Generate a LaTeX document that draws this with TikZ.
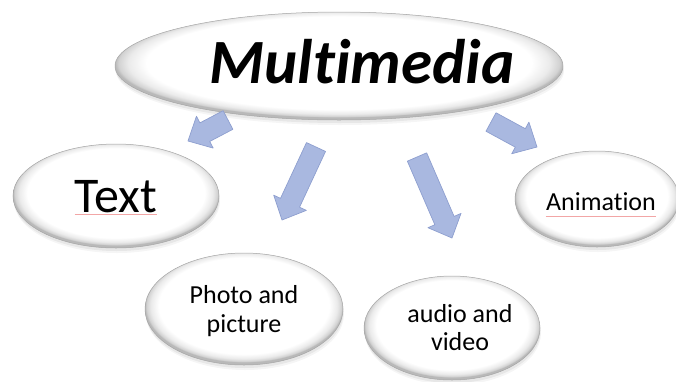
\documentclass[tikz,border=0pt]{standalone}
\usepackage{fontspec}
\setmainfont[Ligatures=NoCommon]{Carlito}
\usetikzlibrary{shapes.geometric,calc,shadows}

\definecolor{arrfill}{HTML}{A9B8E0}
\definecolor{arredge}{HTML}{8E9FCF}
\definecolor{rim}{HTML}{D2D2D2}
\definecolor{spell}{HTML}{F2A6A6}

% glossy white oval with a thin grey rim, a little heavier at the bottom
\pgfdeclareradialshading{ovalshade}{\pgfpoint{0bp}{2.5bp}}{%
  color(0bp)=(white); color(21.5bp)=(white); color(23.5bp)=(rim!45);
  color(24.6bp)=(rim); color(25bp)=(gray!55); color(50bp)=(gray!55)}

\tikzset{
  oval/.style={ellipse, inner sep=0pt, shading=ovalshade, draw=gray!70, line width=0.5pt,
    general shadow={fill=black, opacity=0.04, shadow xshift=1pt, shadow yshift=-5pt},
    general shadow={fill=black, opacity=0.06, shadow xshift=0.5pt, shadow yshift=-3pt}},
  lbl/.style={inner sep=0pt, anchor=base, font=\fontsize{26}{29}\selectfont},
  blockarrow/.style={fill=arrfill, draw=arredge, line width=0.7pt, line join=round},
  spellmark/.style={draw=spell, line width=0.6pt}
}

% block arrow from tail centre #1 to tip #2
\newcommand\blockarr[2]{%
  \coordinate (hb) at ($(#2)!19pt!(#1)$);
  \draw[blockarrow]
    ($(#1)!10.5pt!90:(#2)$) -- ($(hb)!10.5pt!90:(#2)$) -- ($(hb)!18pt!90:(#2)$)
    -- (#2) --
    ($(hb)!18pt!-90:(#2)$) -- ($(hb)!10.5pt!-90:(#2)$) -- ($(#1)!10.5pt!-90:(#2)$) -- cycle;}

\begin{document}
\begin{tikzpicture}[x=1pt,y=-1pt]
  \useasboundingbox (0,0) rectangle (676,381);

  % ovals
  \node[oval, minimum width=448pt, minimum height=108pt] (mm)    at (339,66)  {};
  \node[oval, minimum width=206pt, minimum height=104pt] (txt)   at (116,196) {};
  \node[oval, minimum width=164pt, minimum height=96pt]  (anim)  at (597,199) {};
  \node[oval, minimum width=198pt, minimum height=112pt] (photo) at (244,309) {};
  \node[oval, minimum width=176pt, minimum height=104pt] (audio) at (452,328) {};

  % labels
  \node[inner sep=0pt, anchor=base, font=\fontsize{63}{70}\selectfont\bfseries\itshape]
    (mmL) at (362,83) {Multimedia};
  \node[inner sep=0pt, anchor=base, font=\fontsize{50}{56}\selectfont] (txtL) at (116,212) {Text};
  \node[lbl] (animL)   at (601,210) {Animation};
  \node[lbl] (photoL1) at (244,303) {Photo and};
  \node[lbl] (photoL2) at (244,332) {picture};
  \node[lbl] (audioL1) at (460,322) {audio and};
  \node[lbl] (audioL2) at (460,350) {video};

  % spell-check marks
  \draw[spellmark] ($(txtL.base west)+(0,2)$) -- ($(txtL.base east)+(0,2)$);
  \draw[spellmark] ($(animL.base west)+(0,6)$) -- ($(animL.base east)+(0,6)$);

  % arrow ends
  \coordinate (a1t) at (228,120);  \coordinate (a1h) at (188,141);
  \coordinate (a2t) at (316,147);  \coordinate (a2h) at (282,220);
  \coordinate (a3t) at (417,157);  \coordinate (a3h) at (452,238);
  \coordinate (a4t) at (491,122);  \coordinate (a4h) at (537,147);

  \blockarr{a1t}{a1h}
  \blockarr{a2t}{a2h}
  \blockarr{a3t}{a3h}
  \blockarr{a4t}{a4h}
\end{tikzpicture}
\end{document}
